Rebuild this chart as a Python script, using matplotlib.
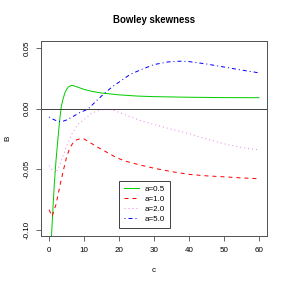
import numpy as np
import matplotlib
matplotlib.use("Agg")
import matplotlib.pyplot as plt

plt.rcParams['font.family'] = ['Liberation Sans', 'DejaVu Sans']

# Valores (c, B) para cada a
c_05 = [0.5, 0.68, 1, 1.5, 2, 2.5, 3, 3.5, 4, 4.5, 5, 5.5, 6.4, 7, 8, 10, 12, 15, 20, 25, 30, 40, 50, 60]
b_05 = [-0.115, -0.106, -0.088, -0.062, -0.042, -0.026, -0.010, 0.002, 0.008, 0.013, 0.016, 0.018,
        0.0193, 0.019, 0.018, 0.016, 0.0145, 0.013, 0.0115, 0.0105, 0.0100, 0.0095, 0.0092, 0.0091]

c_10 = [0, 0.86, 2, 3, 4, 5, 6, 7, 8, 9, 10, 12, 14.6, 16.4, 19.3, 22, 26, 30, 35, 40, 45, 50, 55, 60]
b_10 = [-0.0835, -0.089, -0.079, -0.065, -0.052, -0.040, -0.032, -0.0276, -0.0255, -0.0248, -0.025,
        -0.0285, -0.033, -0.0358, -0.0405, -0.0435, -0.0465, -0.0492, -0.052, -0.0543, -0.0555,
        -0.0563, -0.0572, -0.0579]

c_20 = [0, 1, 2, 3, 4, 5, 5.5, 6.5, 7.4, 8.5, 10.3, 12, 14.6, 16.4, 18, 20, 23, 26, 30, 35, 40, 45, 50, 55, 60]
b_20 = [-0.047, -0.051, -0.053, -0.047, -0.039, -0.031, -0.0276, -0.021, -0.0165, -0.012, -0.0083,
        -0.004, -0.001, -0.0005, -0.001, -0.003, -0.0064, -0.0097, -0.013, -0.017, -0.0205, -0.025,
        -0.029, -0.032, -0.034]

c_50 = [0, 1, 2, 3, 4, 5, 6, 7.4, 9, 10.3, 11.2, 12, 13, 14, 15.7, 18, 20, 23, 26, 30, 34, 37.4, 40, 45, 50, 55, 60]
b_50 = [-0.0068, -0.0085, -0.0098, -0.0105, -0.0103, -0.0093, -0.0078, -0.0055, -0.0028, -0.0014, 0.0,
        0.0022, 0.005, 0.0078, 0.0124, 0.018, 0.022, 0.028, 0.032, 0.0365, 0.0387, 0.0393, 0.039,
        0.037, 0.0345, 0.032, 0.0297]

fig = plt.figure(figsize=(4, 4), dpi=72)
ax = fig.add_axes([0.1413, 0.1795, 0.7867, 0.6781])

ax.plot(c_05, b_05, color="#00cd00", lw=1, label="a=0.5")
ax.plot(c_10, b_10, color="red", lw=1, dashes=(4, 4), label="a=1.0")
ax.plot(c_20, b_20, color="violet", lw=1, dashes=(1, 3), label="a=2.0")
ax.plot(c_50, b_50, color="blue", lw=1, dashes=(1, 3, 4, 3), label="a=5.0")
ax.axhline(0, color="#444444", lw=1)

ax.set_xlim(-2.4, 62.4)
ax.set_ylim(-0.1055, 0.056)
ax.set_xticks([0, 10, 20, 30, 40, 50, 60])
ax.set_yticks([-0.10, -0.05, 0.00, 0.05])
ax.set_yticklabels(["-0.10", "-0.05", "0.00", "0.05"], rotation=90, va="center")
ax.tick_params(labelsize=8, length=5, width=0.8, color="#444444")
ax.tick_params(axis="x", pad=6)
ax.tick_params(axis="y", pad=5)
for s in ax.spines.values():
    s.set_color("#555555")
    s.set_linewidth(1)

ax.set_xlabel("c", fontsize=8, labelpad=13)
ax.set_ylabel("B", fontsize=8, labelpad=12)
fig.text(0.534, 0.93, "Bowley skewness", ha="center", va="center", fontsize=9.6, fontweight="bold")

leg = ax.legend(loc="upper left", bbox_to_anchor=(0.3455, 0.2847), borderaxespad=0, fontsize=8,
                frameon=True, fancybox=False, edgecolor="#444444", framealpha=1,
                handlelength=1.9, handletextpad=0.75, labelspacing=0.3, borderpad=0.6)
leg.get_frame().set_linewidth(1)

fig.savefig("out.png", dpi=72)
